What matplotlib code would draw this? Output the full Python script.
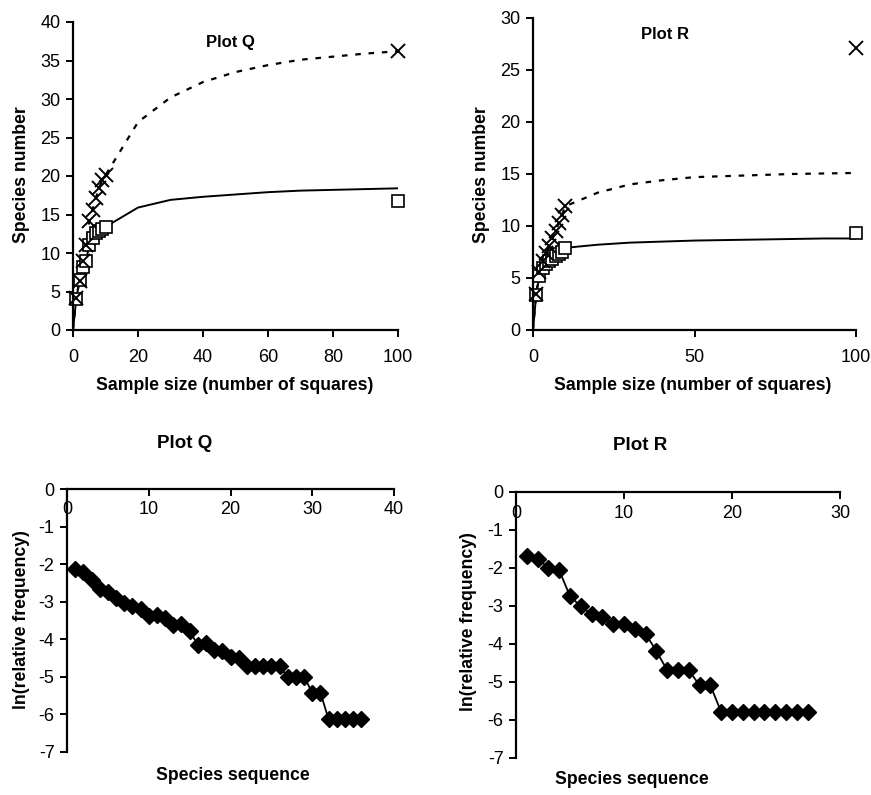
import matplotlib
matplotlib.use('Agg')
import matplotlib.pyplot as plt

plt.rcParams['font.family'] = ['Liberation Sans', 'DejaVu Sans']
plt.rcParams['axes.unicode_minus'] = False

# species accumulation, plot Q
obs_x = [1, 2, 3, 4, 5, 6, 7, 8, 9, 10]
q_cross = [4.1, 6.4, 9.0, 11.0, 14.2, 15.6, 17.1, 18.4, 19.5, 20.1]
q_square = [4.0, 6.5, 8.2, 9.0, 11.0, 12.0, 12.6, 12.9, 13.1, 13.4]
q_cross_100 = 36.2
q_square_100 = 16.7

curve_x = [0, 1, 2, 3, 4, 5, 6, 7, 8, 9, 10, 20, 30, 40, 50, 60, 70, 80, 90, 100]
q_dashed = [0, 4.1, 6.4, 9.0, 11.0, 14.2, 15.6, 17.1, 18.4, 19.5, 20.1,
            27.0, 30.2, 32.2, 33.5, 34.4, 35.1, 35.5, 35.9, 36.2]
q_solid = [0, 4.0, 6.5, 8.2, 9.0, 11.0, 12.0, 12.6, 12.9, 13.1, 13.4,
           15.9, 16.9, 17.3, 17.6, 17.9, 18.1, 18.2, 18.3, 18.4]

# species accumulation, plot R
r_cross = [3.5, 5.6, 6.6, 7.4, 8.1, 8.8, 9.5, 10.3, 11.1, 11.9]
r_square = [3.4, 5.2, 6.0, 6.3, 6.6, 6.8, 7.1, 7.3, 7.5, 7.9]
r_cross_100 = 27.1
r_square_100 = 9.3
r_dashed = [0, 3.5, 5.6, 6.6, 7.4, 8.1, 8.8, 9.5, 10.3, 11.1, 11.9,
            13.2, 14.0, 14.4, 14.7, 14.8, 14.9, 15.0, 15.05, 15.1]
r_solid = [0, 3.4, 5.2, 6.0, 6.3, 6.6, 6.8, 7.1, 7.3, 7.5, 7.9,
           8.2, 8.4, 8.5, 8.6, 8.65, 8.7, 8.75, 8.8, 8.8]

# rank abundance
q_rank = list(range(1, 37))
q_lnfreq = [-2.12, -2.22, -2.41, -2.66, -2.74, -2.90, -3.03, -3.12, -3.19, -3.38,
            -3.36, -3.43, -3.61, -3.58, -3.79, -4.14, -4.11, -4.29, -4.32, -4.48,
            -4.50, -4.72, -4.72, -4.72, -4.72, -4.72, -5.00, -5.00, -5.00, -5.42,
            -5.42, -6.13, -6.13, -6.13, -6.13, -6.13]
r_rank = list(range(1, 28))
r_lnfreq = [-1.69, -1.75, -2.00, -2.06, -2.74, -3.01, -3.22, -3.29, -3.48, -3.48,
            -3.60, -3.73, -4.19, -4.69, -4.69, -4.69, -5.09, -5.09, -5.79, -5.79,
            -5.79, -5.79, -5.79, -5.79, -5.79, -5.79, -5.79]

W, H = 871, 795
fig = plt.figure(figsize=(W / 100, H / 100), dpi=100)


def px_axes(x0, y0, x1, y1):
    # pixel box (left, top, right, bottom) -> axes
    return fig.add_axes([x0 / W, 1 - y1 / H, (x1 - x0) / W, (y1 - y0) / H])


def style(ax):
    for s in ['top', 'right']:
        ax.spines[s].set_visible(False)
    for s in ['left', 'bottom']:
        ax.spines[s].set_linewidth(1.6)
    ax.tick_params(direction='out', length=5, width=1.4, labelsize=13, pad=4)


def accum(ax, dashed, solid, cross, square, cross100, square100, ymax, xticks, title, tpos):
    ax.plot(curve_x, dashed, color='black', lw=1.6, ls=(0, (2.5, 3.5)))
    ax.plot(curve_x, solid, color='black', lw=1.4)
    ax.plot(obs_x + [100], square + [square100], ls='none', marker='s', ms=9,
            mfc='white', mec='black', mew=1.2, clip_on=False)
    ax.plot(obs_x + [100], cross + [cross100], ls='none', marker='x', ms=10,
            color='black', mew=1.4, clip_on=False)
    ax.set_xlim(0, 100)
    ax.set_ylim(0, ymax)
    ax.set_xticks(xticks)
    ax.set_yticks(range(0, ymax + 1, 5))
    style(ax)
    ax.tick_params(axis='x', pad=9)
    ax.text(tpos[0], tpos[1], title, transform=ax.transAxes, ha='center', va='center',
            fontsize=12, fontweight='bold')


ax1 = px_axes(73, 22, 398, 330)
accum(ax1, q_dashed, q_solid, q_cross, q_square, q_cross_100, q_square_100, 40,
      [0, 20, 40, 60, 80, 100], 'Plot Q', (0.483, 0.932))
ax2 = px_axes(533, 18, 856, 330)
accum(ax2, r_dashed, r_solid, r_cross, r_square, r_cross_100, r_square_100, 30,
      [0, 50, 100], 'Plot R', (0.41, 0.946))


def rank(ax, x, y, xmax, xticks):
    ax.plot(x, y, color='black', lw=1.3, marker='D', ms=8, mfc='black', mec='black')
    ax.set_xlim(0, xmax)
    ax.set_ylim(-7, 0)
    ax.spines['bottom'].set_position(('data', 0))
    style(ax)
    ax.set_xticks(xticks)
    ax.set_yticks(range(-7, 1))


ax3 = px_axes(67, 489, 394, 752)
rank(ax3, q_rank, q_lnfreq, 40, [0, 10, 20, 30, 40])
ax4 = px_axes(516, 492, 840, 758)
rank(ax4, r_rank, r_lnfreq, 30, [0, 10, 20, 30])

bold = dict(fontweight='bold', fontsize=12.7, ha='center', va='center')
fig.text(235 / W, 1 - 385 / H, 'Sample size (number of squares)', **bold)
fig.text(693 / W, 1 - 385 / H, 'Sample size (number of squares)', **bold)
fig.text(22 / W, 1 - 175 / H, 'Species number', rotation=90, **bold)
fig.text(481 / W, 1 - 175 / H, 'Species number', rotation=90, **bold)
fig.text(185 / W, 1 - 443 / H, 'Plot Q', fontweight='bold', fontsize=13.5, ha='center', va='center')
fig.text(640 / W, 1 - 445 / H, 'Plot R', fontweight='bold', fontsize=13.5, ha='center', va='center')
fig.text(22 / W, 1 - 620 / H, 'ln(relative frequency)', rotation=90, **bold)
fig.text(468 / W, 1 - 622 / H, 'ln(relative frequency)', rotation=90, **bold)
fig.text(233 / W, 1 - 775 / H, 'Species sequence', **bold)
fig.text(632 / W, 1 - 780 / H, 'Species sequence', **bold)

fig.savefig('out.png', dpi=100)
